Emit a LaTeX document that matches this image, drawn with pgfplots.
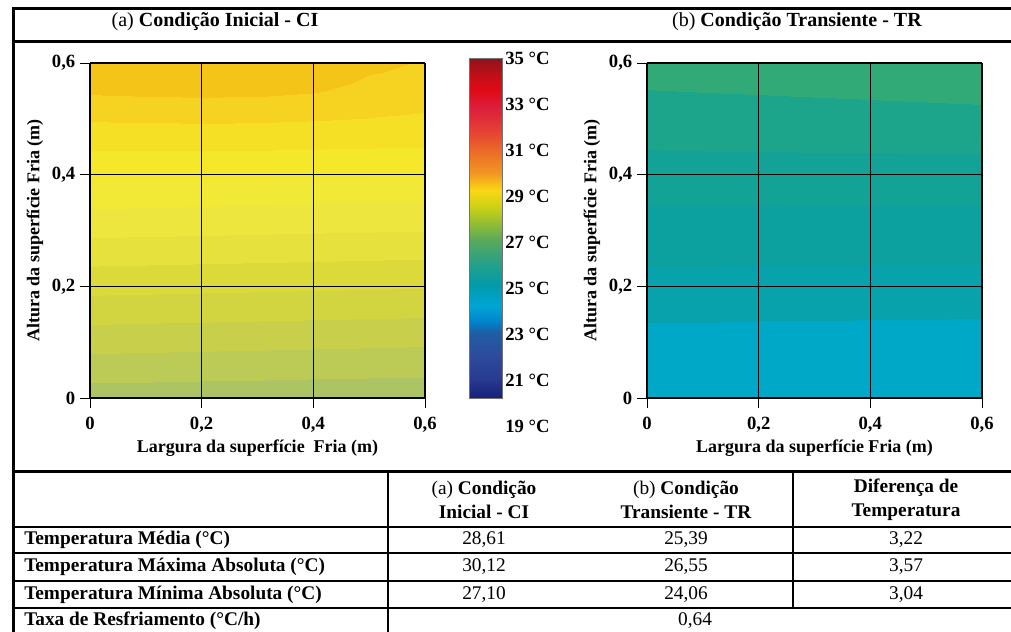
\documentclass[border=0pt]{standalone}
\usepackage{pgfplots}
\pgfplotsset{compat=1.18}
\usepackage{fontspec}
\setmainfont{Liberation Serif}
\newcommand{\fs}[1]{\fontsize{#1}{#1}\selectfont}

\pgfplotsset{
  colormap={cbar}{
    rgb255(19pt)=(15,25,105); rgb255(20.2pt)=(22,32,120); rgb255(21.1pt)=(40,60,145);
    rgb255(22.1pt)=(45,75,155); rgb255(23.1pt)=(30,95,165); rgb255(23.5pt)=(0,130,200);
    rgb255(24.2pt)=(0,165,215); rgb255(25.1pt)=(0,155,170); rgb255(26pt)=(35,160,140);
    rgb255(27.1pt)=(90,170,90); rgb255(27.85pt)=(150,190,50); rgb255(28.55pt)=(205,210,20);
    rgb255(29.25pt)=(250,215,20); rgb255(30pt)=(242,150,35); rgb255(31pt)=(235,105,40);
    rgb255(31.7pt)=(230,70,50); rgb255(32.85pt)=(220,30,60); rgb255(33.6pt)=(225,10,20);
    rgb255(34.3pt)=(190,15,25); rgb255(35pt)=(140,20,25)},
  colormap={amap}{
    rgb255(19pt)=(172,196,100); rgb255(27.25pt)=(188,202,86); rgb255(27.5pt)=(200,207,74);
    rgb255(27.75pt)=(210,212,64); rgb255(28pt)=(220,218,58); rgb255(28.25pt)=(230,225,60);
    rgb255(28.5pt)=(237,230,62); rgb255(28.75pt)=(242,233,55); rgb255(29pt)=(245,232,42);
    rgb255(29.25pt)=(246,224,38); rgb255(29.55pt)=(246,211,32); rgb255(29.84pt)=(244,196,24);
    rgb255(30.3pt)=(243,188,15); rgb255(35pt)=(243,188,15)},
  colormap={bmap}{
    rgb255(19pt)=(0,168,200); rgb255(24.6pt)=(8,162,172); rgb255(25pt)=(12,160,158);
    rgb255(25.45pt)=(18,162,150); rgb255(25.84pt)=(28,165,138); rgb255(26.29pt)=(50,170,120);
    rgb255(35pt)=(50,170,120)},
  contax/.style={
    view={0}{90}, scale only axis, width=251.25pt, height=251.25pt,
    anchor=south west,
    xmin=0, xmax=0.6, ymin=0, ymax=0.6,
    xtick={0,0.2,0.4,0.6}, ytick={0,0.2,0.4,0.6}, ztick=\empty,
    xticklabels={0,{0,2},{0,4},{0,6}}, yticklabels={0,{0,2},{0,4},{0,6}},
    tick align=outside, tick pos=left, major tick length=7.5pt,
    grid=major, major grid style={black, line width=0.6pt},
    tick style={black, line width=0.7pt},
    axis line style={black, line width=0.8pt},
    axis on top,
    ticklabel style={font=\fs{14}\bfseries},
    xticklabel style={yshift=-3pt},
    every axis x label/.style={at={(axis description cs:0.5,-0.15)}, anchor=center, font=\fs{13.5}\bfseries},
    every axis y label/.style={at={(axis description cs:-0.164,0.5)}, anchor=center, rotate=90, font=\fs{13.5}\bfseries},
    point meta min=19, point meta max=35, colormap access=piecewise constant,
  },
}

\begin{document}
\begin{tikzpicture}[x=0.75pt, y=0.75pt]
\useasboundingbox (0,0) rectangle (1011,632);
\fill[white] (0,0) rectangle (1011,632);

% ---- contour (a)
\begin{axis}[contax, at={(67.5pt,175.5pt)}, colormap name=amap,
  xlabel={Largura da superfície\ \ Fria (m)}, ylabel={Altura da superfície Fria (m)}]
\addplot3[surf, shader=interp, mesh/cols=7] table {
x y z
0 0 27.12
0.1 0 27.12
0.2 0 27.11
0.3 0 27.11
0.4 0 27.10
0.5 0 27.10
0.6 0 27.10
0 0.05 27.36
0.1 0.05 27.35
0.2 0.05 27.34
0.3 0.05 27.33
0.4 0.05 27.32
0.5 0.05 27.31
0.6 0.05 27.30
0 0.1 27.60
0.1 0.1 27.59
0.2 0.1 27.58
0.3 0.1 27.57
0.4 0.1 27.56
0.5 0.1 27.55
0.6 0.1 27.54
0 0.15 27.84
0.1 0.15 27.83
0.2 0.15 27.82
0.3 0.15 27.81
0.4 0.15 27.80
0.5 0.15 27.79
0.6 0.15 27.78
0 0.2 28.08
0.1 0.2 28.07
0.2 0.2 28.06
0.3 0.2 28.05
0.4 0.2 28.04
0.5 0.2 28.03
0.6 0.2 28.02
0 0.25 28.32
0.1 0.25 28.31
0.2 0.25 28.30
0.3 0.25 28.29
0.4 0.25 28.28
0.5 0.25 28.27
0.6 0.25 28.26
0 0.3 28.56
0.1 0.3 28.55
0.2 0.3 28.54
0.3 0.3 28.53
0.4 0.3 28.52
0.5 0.3 28.51
0.6 0.3 28.50
0 0.35 28.80
0.1 0.35 28.79
0.2 0.35 28.78
0.3 0.35 28.77
0.4 0.35 28.76
0.5 0.35 28.75
0.6 0.35 28.74
0 0.4 29.04
0.1 0.4 29.04
0.2 0.4 29.03
0.3 0.4 29.03
0.4 0.4 29.02
0.5 0.4 29.02
0.6 0.4 29.01
0 0.45 29.28
0.1 0.45 29.28
0.2 0.45 29.28
0.3 0.45 29.28
0.4 0.45 29.27
0.5 0.45 29.26
0.6 0.45 29.25
0 0.5 29.58
0.1 0.5 29.59
0.2 0.5 29.60
0.3 0.5 29.59
0.4 0.5 29.57
0.5 0.5 29.54
0.6 0.5 29.50
0 0.55 29.88
0.1 0.55 29.90
0.2 0.55 29.91
0.3 0.55 29.90
0.4 0.55 29.86
0.5 0.55 29.76
0.6 0.55 29.70
0 0.6 30.08
0.1 0.6 30.10
0.2 0.6 30.12
0.3 0.6 30.11
0.4 0.6 30.04
0.5 0.6 29.90
0.6 0.6 29.82
};
\end{axis}

% ---- contour (b)
\begin{axis}[contax, at={(485.25pt,175.5pt)}, colormap name=bmap,
  xlabel={Largura da superfície Fria (m)}, ylabel={Altura da superfície Fria (m)}]
\addplot3[surf, shader=interp, mesh/cols=7] table {
x y z
0 0 24.08
0.1 0 24.08
0.2 0 24.07
0.3 0 24.07
0.4 0 24.07
0.5 0 24.06
0.6 0 24.06
0 0.05 24.27
0.1 0.05 24.27
0.2 0.05 24.26
0.3 0.05 24.26
0.4 0.05 24.25
0.5 0.05 24.25
0.6 0.05 24.25
0 0.1 24.46
0.1 0.1 24.46
0.2 0.1 24.45
0.3 0.1 24.45
0.4 0.1 24.44
0.5 0.1 24.44
0.6 0.1 24.43
0 0.15 24.66
0.1 0.15 24.66
0.2 0.15 24.65
0.3 0.15 24.65
0.4 0.15 24.64
0.5 0.15 24.64
0.6 0.15 24.63
0 0.2 24.86
0.1 0.2 24.86
0.2 0.2 24.85
0.3 0.2 24.85
0.4 0.2 24.85
0.5 0.2 24.84
0.6 0.2 24.84
0 0.25 25.06
0.1 0.25 25.06
0.2 0.25 25.06
0.3 0.25 25.06
0.4 0.25 25.05
0.5 0.25 25.05
0.6 0.25 25.05
0 0.3 25.26
0.1 0.3 25.26
0.2 0.3 25.26
0.3 0.3 25.26
0.4 0.3 25.26
0.5 0.3 25.26
0.6 0.3 25.26
0 0.35 25.46
0.1 0.35 25.46
0.2 0.35 25.46
0.3 0.35 25.47
0.4 0.35 25.47
0.5 0.35 25.47
0.6 0.35 25.47
0 0.4 25.66
0.1 0.4 25.66
0.2 0.4 25.67
0.3 0.4 25.67
0.4 0.4 25.67
0.5 0.4 25.68
0.6 0.4 25.68
0 0.45 25.86
0.1 0.45 25.87
0.2 0.45 25.87
0.3 0.45 25.88
0.4 0.45 25.88
0.5 0.45 25.89
0.6 0.45 25.89
0 0.5 26.07
0.1 0.5 26.08
0.2 0.5 26.09
0.3 0.5 26.11
0.4 0.5 26.13
0.5 0.5 26.15
0.6 0.5 26.17
0 0.55 26.28
0.1 0.55 26.30
0.2 0.55 26.32
0.3 0.55 26.34
0.4 0.55 26.36
0.5 0.55 26.38
0.6 0.55 26.40
0 0.6 26.48
0.1 0.6 26.49
0.2 0.6 26.50
0.3 0.6 26.52
0.4 0.6 26.53
0.5 0.6 26.54
0.6 0.6 26.55
};
\end{axis}

% ---- colour bar
\begin{axis}[at={(351.75pt,154.5pt)}, anchor=south west, scale only axis,
  width=24.75pt, height=276pt, xmin=0, xmax=1, ymin=19, ymax=35,
  axis line style={draw=none}, xtick=\empty,
  ytick={19,21,23,25,27,29,31,33,35},
  yticklabels={19 °C,21 °C,23 °C,25 °C,27 °C,29 °C,31 °C,33 °C,35 °C},
  yticklabel pos=right, major tick length=0pt,
  extra y ticks={21,23,25,27,29,31,33}, extra y tick labels={},
  extra y tick style={major tick length=3.5pt, tick style={black!60, line width=0.7pt}},
  yticklabel style={font=\fs{14}\bfseries, xshift=-1pt},
  colormap name=cbar, point meta min=19, point meta max=35, clip=false]
\addplot[surf, shader=interp, point meta=explicit, mesh/cols=2] table[meta=T] {
x y T
0 20.2 20.2
1 20.2 20.2
0 21 21
1 21 21
0 22 22
1 22 22
0 23 23
1 23 23
0 24 24
1 24 24
0 25 25
1 25 25
0 26 26
1 26 26
0 27 27
1 27 27
0 28 28
1 28 28
0 29 29
1 29 29
0 30 30
1 30 30
0 31 31
1 31 31
0 32 32
1 32 32
0 33 33
1 33 33
0 34 34
1 34 34
0 35 35
1 35 35
};
\draw[black!55, line width=0.6pt] (axis cs:0,20.2) rectangle (axis cs:1,35);
\end{axis}

% ---- frame and table
\draw[line width=2.25pt] (12,623.5) -- (1011,623.5);
\draw[line width=2.25pt] (12,590) -- (1011,590);
\draw[line width=2.25pt] (12,160.5) -- (1011,160.5);
\draw[line width=1.5pt] (12,105) -- (1011,105);
\draw[line width=1.5pt] (12,79) -- (1011,79);
\draw[line width=1.5pt] (12,51) -- (1011,51);
\draw[line width=1.5pt] (12,24) -- (1011,24);
\draw[line width=2.25pt] (13,625) -- (13,0);
\draw[line width=0.9pt] (388,160.5) -- (388,0);
\draw[line width=1.5pt] (793,160.5) -- (793,24);

\node[font=\fs{15}] at (215,610) {(a) \textbf{Condição Inicial - CI}};
\node[font=\fs{15}] at (797,610) {(b) \textbf{Condição Transiente - TR}};

\node[font=\fontsize{14.5}{18}\selectfont, align=center] at (484,132) {(a) \textbf{Condição}\\\textbf{Inicial - CI}};
\node[font=\fontsize{14.5}{18}\selectfont, align=center] at (686,132) {(b) \textbf{Condição}\\\textbf{Transiente - TR}};
\node[font=\fontsize{14.5}{18}\selectfont\bfseries, align=center] at (906,132) {Diferença de\\Temperatura};

\begin{scope}[every node/.style={font=\fs{14.5}}]
\node[anchor=west, inner sep=0pt, font=\fs{14.5}\bfseries] at (24,92) {Temperatura Média (°C)};
\node[anchor=west, inner sep=0pt, font=\fs{14.5}\bfseries] at (24,65) {Temperatura Máxima Absoluta (°C)};
\node[anchor=west, inner sep=0pt, font=\fs{14.5}\bfseries] at (24,37) {Temperatura Mínima Absoluta (°C)};
\node[anchor=west, inner sep=0pt, font=\fs{14.5}\bfseries] at (24,11) {Taxa de Resfriamento (°C/h)};
\node at (484,92) {28,61}; \node at (686,92) {25,39}; \node at (906,92) {3,22};
\node at (484,65) {30,12}; \node at (686,65) {26,55}; \node at (906,65) {3,57};
\node at (484,37) {27,10}; \node at (686,37) {24,06}; \node at (906,37) {3,04};
\node at (695,11) {0,64};
\end{scope}
\end{tikzpicture}
\end{document}
